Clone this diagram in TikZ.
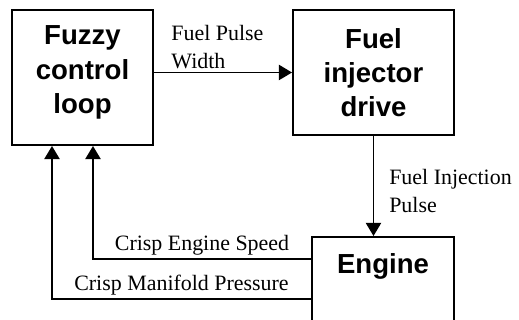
\documentclass[tikz,border=0pt]{standalone}
\usepackage{fontspec}
\setmainfont{Liberation Serif}
\newfontfamily\blockfont{Liberation Sans}
\usetikzlibrary{positioning, calc, arrows.meta}

\begin{document}
\begin{tikzpicture}[
  block/.style   = {draw, line width=1.4pt, minimum width=3.55cm, inner sep=0pt},
  blocktxt/.style = {align=center, font=\blockfont\bfseries\fontsize{19.6}{24.2}\selectfont},
  lbl/.style     = {font=\fontsize{15.6}{19.5}\selectfont, inner sep=2pt},
  arr/.style     = {-{Triangle[length=3.3mm, width=3.8mm]}, line width=1.4pt},
]
\useasboundingbox (0,0) rectangle (12.975,8);

% ---- the three blocks -------------------------------------------------------
\node[block, minimum width=3.525cm, minimum height=3.375cm] (fuzzy) at (2.0625,6.0625) {};
\node[blocktxt] (fuzzytxt) at (2.0625,6.19) {Fuzzy\\control\\loop};

\node[block, blocktxt, minimum width=4.025cm, minimum height=3.125cm] (inj) at (9.3375,6.1875)
  {Fuel\\injector\\drive};

\node[block, minimum height=2.475cm] (engine) at (9.575,0.8375) {};
\node[blocktxt] (enginetxt) at (9.575,1.33) {Engine};

% ---- feedback corners -------------------------------------------------------
\coordinate (spd) at (2.325,1.525);
\coordinate (man) at (1.3,0.525);

% ---- forward path -----------------------------------------------------------
\draw[arr] (fuzzy.east |- inj) -- node[lbl, above, align=left, pos=0.46] {Fuel Pulse\\Width} (inj.west);
\draw[arr] (inj.south) -- node[lbl, right=0.3cm, align=left, pos=0.55] {Fuel Injection\\Pulse}
  (inj.south |- engine.north);

% ---- feedback path ----------------------------------------------------------
\draw[arr] (engine.west |- spd) -- node[lbl, above, pos=0.5] {Crisp Engine Speed} (spd) -- (spd |- fuzzy.south);
\draw[arr] (engine.west |- man) -- node[lbl, above, pos=0.5] {Crisp Manifold Pressure} (man) -- (man |- fuzzy.south);

\end{tikzpicture}
\end{document}
